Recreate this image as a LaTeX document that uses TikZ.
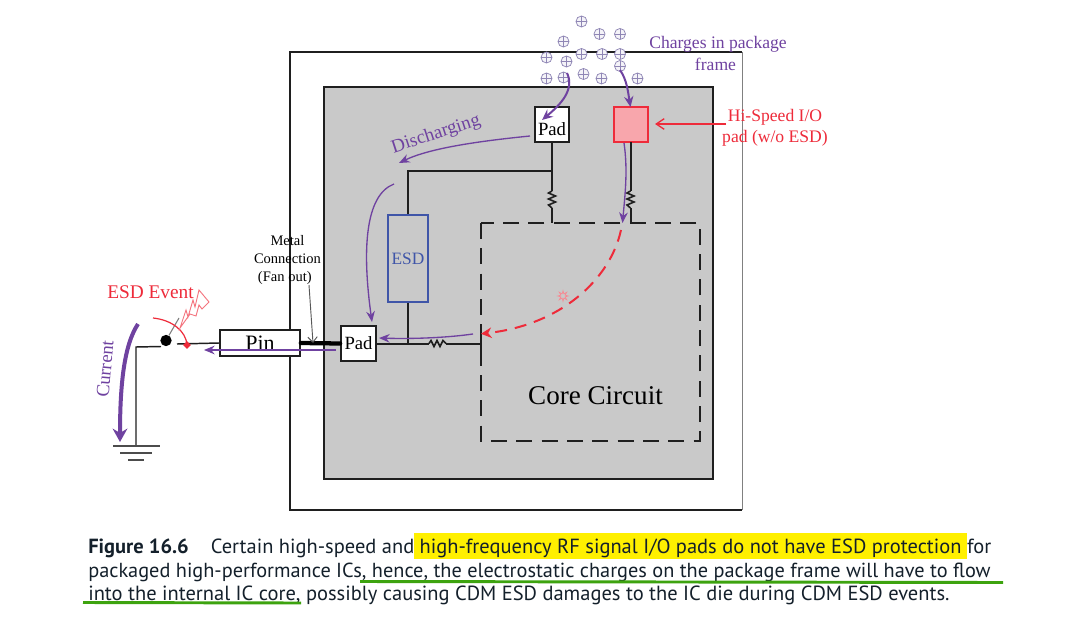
\documentclass[tikz,border=0pt]{standalone}
\usepackage{fontspec}
\setmainfont{Liberation Serif}
\newfontfamily\capfont{PT Sans}
\usetikzlibrary{arrows.meta,shapes.geometric,calc}
\definecolor{pur}{HTML}{6F42A0}
\definecolor{chg}{HTML}{8F86B5}
\definecolor{hired}{HTML}{EE2B3A}
\definecolor{wirec}{HTML}{1F1F1F}
\definecolor{esdblue}{HTML}{3F55A8}
\definecolor{greyfill}{HTML}{C9C9C9}
\definecolor{hilite}{HTML}{FFF000}
\definecolor{ugreen}{HTML}{3DA30F}
\definecolor{capc}{HTML}{14202B}
\tikzset{
  wire/.style={draw=wirec,line width=1.5pt},
  resist/.style={draw=wirec,line width=1.2pt},
  padbox/.style={draw=wirec,fill=white,line width=1.5pt,minimum width=26pt,minimum height=26pt,inner sep=0pt,font=\fontsize{14pt}{15pt}\selectfont},
  parrow/.style={draw=pur,line width=1pt,-{Stealth[length=8pt,width=6.5pt]}},
  parrowb/.style={draw=pur,line width=1.5pt,-{Stealth[length=8pt,width=7pt]}},
  charge/.style={circle,draw=chg,fill=chg!10,line width=.55pt,minimum size=8.3pt,inner sep=0pt,path picture={
    \draw[chg,line width=.45pt] (path picture bounding box.north)--(path picture bounding box.south)
      (path picture bounding box.west)--(path picture bounding box.east);}},
  ctext/.style={anchor=base west,inner sep=0pt,text=capc},
  lab/.style={inner sep=0pt},
}
\begin{document}
\begin{tikzpicture}[x=0.75pt,y=-0.75pt]
\useasboundingbox (0,0) rectangle (1087,627);
% package frame
\fill[white] (0,0) rectangle (1087,627);
\draw[draw=gray,line width=.6pt] (742,52) -- (742,510);
\draw[wirec,line width=1.4pt] (742,52) -- (290,52) -- (290,510) -- (742,510);
\node[draw=wirec,fill=greyfill,line width=1.5pt,minimum width=291.5pt,minimum height=294pt,inner sep=0pt] (die) at (518.5,283) {};
% charges
\foreach \cx/\cy in {581.5/21.5,563.5/41.5,599.5/34,620/34,546.5/57.5,566.5/61.5,581.5/54,602/54,620/54,620/66,546.5/78.5,563.5/77.5,583.5/74,601.5/78.5,637.5/78.5}
  \node[charge] at (\cx,\cy) {};
% core
\draw[wirec,line width=1.4pt,dash pattern=on 12pt off 7pt] (481,223) rectangle (700,441);
\coordinate (coreA) at (552,223);
\coordinate (coreB) at (630.5,223);
\coordinate (coreC) at (481,343.5);
\coordinate (juncT) at (552,171);
\node[font=\fontsize{20.3pt}{22pt}\selectfont,inner sep=0pt] (core) at (595.5,396) {Core Circuit};
% pads and boxes
\node[padbox] (padT) at (552,124.5) {};
\node[lab,font=\fontsize{14pt}{15pt}\selectfont] (padTl) at (552,129) {Pad};
\node[draw=hired,line width=1.5pt,fill=hired!42!white,minimum width=26pt,minimum height=26pt,inner sep=0pt] (padR) at (631,124.5) {};
\node[padbox] (padL) at (358.5,343.5) {Pad};
\node[draw=esdblue,line width=1.5pt,minimum width=30.5pt,minimum height=65pt,inner sep=0pt,text=esdblue,font=\fontsize{13pt}{14pt}\selectfont] (esd) at (408,258.5) {ESD};
\node[draw=wirec,fill=white,line width=1.2pt,minimum width=60pt,minimum height=19.5pt,inner sep=0pt,font=\fontsize{16.5pt}{17pt}\selectfont] (pin) at (260,343) {Pin};
% wiring
\draw[wire] (padT.south) -- (552,191);
\draw[resist] (552,191) -- ++(-3.5,2) -- ++(7,3) -- ++(-7,3) -- ++(7,3) -- ++(-7,3) -- (552,208);
\draw[wire] (552,208) -- (coreA);
\draw[wire] (630.5,142) -- (630.5,191);
\draw[resist] (630.5,191) -- ++(-3.5,2) -- ++(7,3) -- ++(-7,3) -- ++(7,3) -- ++(-7,3) -- (630.5,208);
\draw[wire] (630.5,208) -- (coreB);
\draw[wire] (juncT) -- (408,171) -- (esd.north);
\draw[wire] (esd.south) -- (408,343.5);
\draw[wire] (padL.east) -- (429,343.5);
\draw[resist] (429,343.5) -- ++(2,-3) -- ++(3,6) -- ++(3,-6) -- ++(3,6) -- ++(3,-6) -- ++(3,3) -- (446,343.5);
\draw[wire] (446,343.5) -- (coreC);
\draw[wirec,line width=1.4pt] (481,335) -- (481,352);
\draw[black,line width=3.2pt,line cap=round] (pin.east) -- (padL.west);
% switch and ground
\coordinate (swEnd) at (177,344);
\coordinate (gnd) at (136,446);
\coordinate (swIn) at (161,346.5);
\coordinate (armEnd) at (179,318);
\node[circle,fill=black,minimum size=8.5pt,inner sep=0pt] (dot) at (166,340.5) {};
\draw[wirec,line width=1.1pt] (pin.west) -- (swEnd);
\draw[wirec,line width=1.1pt] (swIn) -- (136,347) -- (gnd);
\draw[gray,line width=.8pt] (dot) -- (armEnd);
\draw[wirec!80,line width=1.1pt] (113,446) -- (160,446);
\draw[wirec!80,line width=1.1pt] (120,453) -- (152,453);
\draw[wirec!80,line width=1.1pt] (128,460) -- (144,460);
% ESD event
\draw[hired,line width=.9pt] (153,318) .. controls (172,320) and (186,331) .. (187,345);
\node[diamond,fill=hired,minimum size=6pt,inner sep=0pt] (hit) at (187,345) {};
\draw[hired!65!white,line width=.7pt] (180,328) -- (186,310) -- (188,317) -- (193,300) -- (195,307) -- (199,290) -- (209,302) -- (202,309) -- (199,305) -- (196,316) -- (190,314) -- cycle;
\node[lab,text=hired,font=\fontsize{14.5pt}{15pt}\selectfont] (evt) at (150.5,292) {ESD Event};
\node[lab,rotate=85,text=pur,font=\fontsize{14pt}{15pt}\selectfont] (cur) at (105,369) {Current};
\draw[pur,line width=3pt,-{Stealth[length=10pt,width=11pt]}] (138,324) .. controls (124,345) and (120,385) .. (120,442);
% metal connection
\node[lab,align=center,font=\fontsize{10.9pt}{13.5pt}\selectfont] (metal) at (287.5,260.5) {Metal\\Connection\\(Fan out)\hspace*{4pt}};
\draw[wirec!75,line width=.7pt,-{Straight Barb[length=4pt,width=7pt]}] (309,285) -- (313,343);
% purple arrows
\draw[parrowb] (567,73) .. controls (575,90) and (560,105) .. (542,120);
\draw[parrowb] (620,70) .. controls (627,80) and (628,92) .. (630.5,107);
\draw[parrow] (530,136) .. controls (480,141) and (430,148) .. (399,163);
\draw[parrow] (394,184) .. controls (365,195) and (362,250) .. (372,322);
\draw[parrow] (624,143) .. controls (628,170) and (625,195) .. (622.5,223);
\draw[parrow] (473,334) .. controls (445,338) and (410,339) .. (379,338);
\draw[parrow] (336,350) -- (204,350);
% red dashed
\draw[hired,line width=1.5pt,dash pattern=on 9pt off 6pt] (621,230) .. controls (610,280) and (560,325) .. (488,333);
\draw[hired,line width=1.5pt,-{Stealth[length=8pt,width=8pt]}] (486,333.3) -- (481,333.8);
\node[star,star points=8,star point ratio=2.4,draw=hired!55!white,line width=.5pt,minimum size=8pt,inner sep=0pt] (spark) at (563,296) {};
% labels
\node[lab,text=pur,rotate=18,font=\fontsize{14.2pt}{15pt}\selectfont] (dis) at (436,134.5) {Discharging};
\node[lab,text=pur,font=\fontsize{13.2pt}{14pt}\selectfont] (ch1) at (718,44.5) {Charges in package};
\node[lab,text=pur,font=\fontsize{13.2pt}{14pt}\selectfont] (ch2) at (715.5,64) {frame};
\node[lab,text=hired,font=\fontsize{13.2pt}{14pt}\selectfont] (hs1) at (775,117) {Hi-Speed I/O};
\node[lab,text=hired,font=\fontsize{13.2pt}{14pt}\selectfont] (hs2) at (775,138.5) {pad (w/o ESD)};
\coordinate (hsTail) at (726,124);
\coordinate (hsTip) at (655,124);
\draw[hired,line width=1pt,-{Straight Barb[length=6pt,width=8pt]}] (hsTail) -- (hsTip);
% caption
\fill[hilite] (414,533) rectangle (967,559);
\node[ctext,font=\capfont\fontsize{15.35pt}{18pt}\selectfont] (c1) at (88,553) {\textbf{Figure 16.6}\hspace{16.5pt}Certain high-speed and high-frequency RF signal I/O pads do not have ESD protection for};
\node[ctext,font=\capfont\fontsize{15.24pt}{18pt}\selectfont] (c2) at (88,577) {packaged high-performance ICs, hence, the electrostatic charges on the package frame will have to flow};
\node[ctext,font=\capfont\fontsize{15.36pt}{18pt}\selectfont] (c3) at (88,600) {into the internal IC core, possibly causing CDM ESD damages to the IC die during CDM ESD events.};
\draw[ugreen,line width=2.2pt] (360,581.5) -- (1003,582.5);
\draw[ugreen,line width=2.2pt] (83,602.5) -- (301,603);
\end{tikzpicture}
\end{document}
